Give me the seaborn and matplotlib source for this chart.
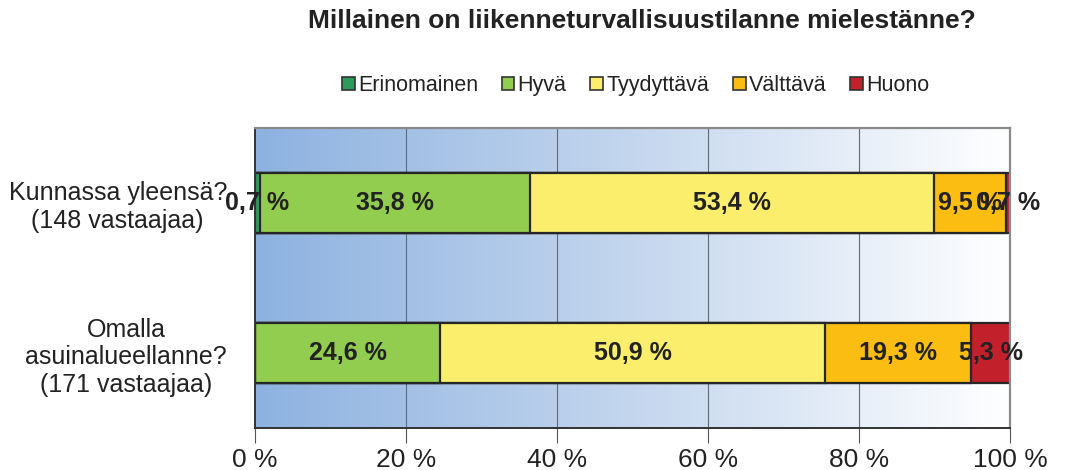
import numpy as np
import pandas as pd
import matplotlib
matplotlib.use("Agg")
import matplotlib.pyplot as plt
import seaborn as sns
from matplotlib.colors import LinearSegmentedColormap
from matplotlib.patches import Patch

# data
kysymykset = ["Kunnassa yleensä?\n(148 vastaajaa)",
              "Omalla\nasuinalueellanne?\n(171 vastaajaa)"]
luokat = ["Erinomainen", "Hyvä", "Tyydyttävä", "Välttävä", "Huono"]
erinomainen = [0.7, 0.0]
hyva = [35.8, 24.6]
tyydyttava = [53.4, 50.9]
valttava = [9.5, 19.3]
huono = [0.7, 5.3]
xticks = [0, 20, 40, 60, 80, 100]

varit = ["#2e9b5e", "#92cd50", "#faee6c", "#fcbd12", "#c2202b"]

sns.set_theme(style="white")
plt.rcParams["font.family"] = ["Liberation Sans", "DejaVu Sans"]

df = pd.DataFrame({"kysymys": kysymykset, "Erinomainen": erinomainen, "Hyvä": hyva,
                   "Tyydyttävä": tyydyttava, "Välttävä": valttava, "Huono": huono})
cum = df[luokat].cumsum(axis=1)

fig = plt.figure(figsize=(10.7, 4.7), dpi=100)
ax = fig.add_axes([0.238, 0.089, 0.706, 0.639])

# gradient background
cmap = LinearSegmentedColormap.from_list("bg", ["#8db2e0", "#c4d6ee", "#ffffff"])
grad = np.linspace(0, 1, 256).reshape(1, -1)
ax.imshow(grad, extent=[0, 100, 1.5, -0.5], aspect="auto", cmap=cmap, zorder=0)

for v in xticks[1:-1]:
    ax.axvline(v, color="#606a78", lw=0.8, zorder=1)

# stacked bars: draw cumulative totals from the right-most series
for i in range(len(luokat) - 1, -1, -1):
    sns.barplot(x=cum[luokat[i]], y=df["kysymys"], color=varit[i], orient="h", saturation=1,
                width=0.4, edgecolor="#262626", linewidth=1.6, ax=ax, zorder=2)

for j in range(len(kysymykset)):
    for i, l in enumerate(luokat):
        v = df.loc[j, l]
        if v <= 0:
            continue
        c = cum.loc[j, l] - v / 2
        ax.text(c, j, f"{v:.1f} %".replace(".", ","), ha="center", va="center",
                fontsize=18, fontweight="bold", color="#222222", zorder=5)

ax.set_xlim(0, 100)
ax.set_ylim(1.5, -0.5)
ax.set_xticks(xticks)
ax.set_xticklabels([f"{t} %" for t in xticks], fontsize=19, color="#222222")
ax.tick_params(axis="x", direction="out", length=11, width=0.8, color="#555555", pad=3, bottom=True)
ax.tick_params(axis="y", length=0, labelsize=18, labelcolor="#222222", pad=20)
for lab in ax.get_yticklabels():
    lab.set_multialignment("center")
ax.set_xlabel("")
ax.set_ylabel("")

for s in ["top", "right"]:
    ax.spines[s].set_color("#8a8a8a")
    ax.spines[s].set_linewidth(1.6)
for s in ["left", "bottom"]:
    ax.spines[s].set_color("#333333")
    ax.spines[s].set_linewidth(1.4)

fig.text(0.6, 0.955, "Millainen on liikenneturvallisuustilanne mielestänne?",
         ha="center", va="center", fontsize=19, fontweight="bold", color="#222222")

handles = [Patch(facecolor=c, edgecolor="#333333", linewidth=1.2, label=l) for c, l in zip(varit, luokat)]
fig.legend(handles=handles, loc="center", bbox_to_anchor=(0.594, 0.818), ncol=5, frameon=False,
           fontsize=15.5, handlelength=0.6, handleheight=0.6, handletextpad=0.15, columnspacing=1.1,
           labelcolor="#222222")

fig.savefig("out.png", dpi=100)
